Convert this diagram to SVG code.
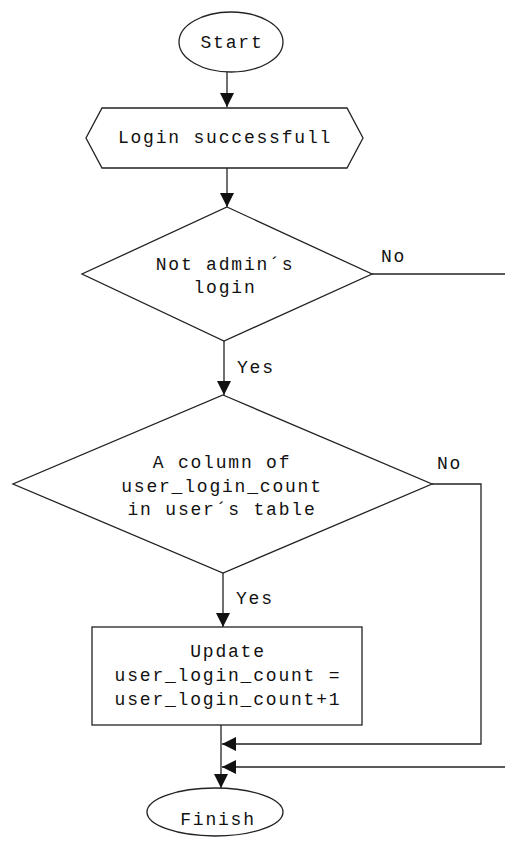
<svg xmlns="http://www.w3.org/2000/svg" width="505" height="845" viewBox="0 0 505 845">
<style>
.shape{fill:#fff;stroke:#222;stroke-width:1.3}
.t{font-family:"Liberation Mono",monospace;font-size:18px;letter-spacing:1.8px;fill:#111;text-anchor:middle}
.l{font-family:"Liberation Mono",monospace;font-size:18px;letter-spacing:1.8px;fill:#111}
.c{fill:none;stroke:#222;stroke-width:1.3}
</style>
<defs>
<marker id="arr" markerUnits="userSpaceOnUse" markerWidth="14" markerHeight="14" viewBox="0 0 12 12" refX="12" refY="6" orient="auto">
<path d="M0,0 L12,6 L0,12 z" fill="#111"/>
</marker>
</defs>
<rect width="505" height="845" fill="#fff"/>
<g id="connectors">
<line class="c" x1="227" y1="72" x2="227" y2="107" marker-end="url(#arr)"/>
<line class="c" x1="227" y1="168" x2="227" y2="207" marker-end="url(#arr)"/>
<line class="c" x1="372" y1="274" x2="505" y2="274"/>
<line class="c" x1="224" y1="341" x2="224" y2="395" marker-end="url(#arr)"/>
<line class="c" x1="223" y1="573" x2="223" y2="627" marker-end="url(#arr)"/>
<line class="c" x1="221" y1="725" x2="221" y2="788" marker-end="url(#arr)"/>
<polyline class="c" points="432,484 481,484 481,744 222,744" marker-end="url(#arr)"/>
<line class="c" x1="505" y1="767" x2="222" y2="767" marker-end="url(#arr)"/>
<text class="l" x="381" y="262">No</text>
<text class="l" x="237" y="373">Yes</text>
<text class="l" x="437" y="469">No</text>
<text class="l" x="236" y="604">Yes</text>
</g>
<g id="start">
<ellipse class="shape" cx="231" cy="42" rx="52" ry="30"/>
<text class="t" x="232" y="48">Start</text>
</g>
<g id="login">
<polygon class="shape" points="102,108 347,108 363,138 347,168 102,168 86,138"/>
<text class="t" x="225" y="143">Login successfull</text>
</g>
<g id="notadmin">
<polygon class="shape" points="227,207 372,274 224,341 82,274"/>
<text class="t" x="225" y="270">Not admin´s</text>
<text class="t" x="225" y="293">login</text>
</g>
<g id="column">
<polygon class="shape" points="223,395 432,484 223,573 13,484"/>
<text class="t" x="222" y="468">A column of</text>
<text class="t" x="222" y="492">user_login_count</text>
<text class="t" x="222" y="515">in user´s table</text>
</g>
<g id="update">
<rect class="shape" x="92" y="627" width="270" height="98"/>
<text class="t" x="228" y="657">Update</text>
<text class="t" x="228" y="681">user_login_count =</text>
<text class="t" x="228" y="705">user_login_count+1</text>
</g>
<g id="finish">
<ellipse class="shape" cx="215" cy="812" rx="68" ry="24"/>
<text class="t" x="218" y="825">Finish</text>
</g>
</svg>
